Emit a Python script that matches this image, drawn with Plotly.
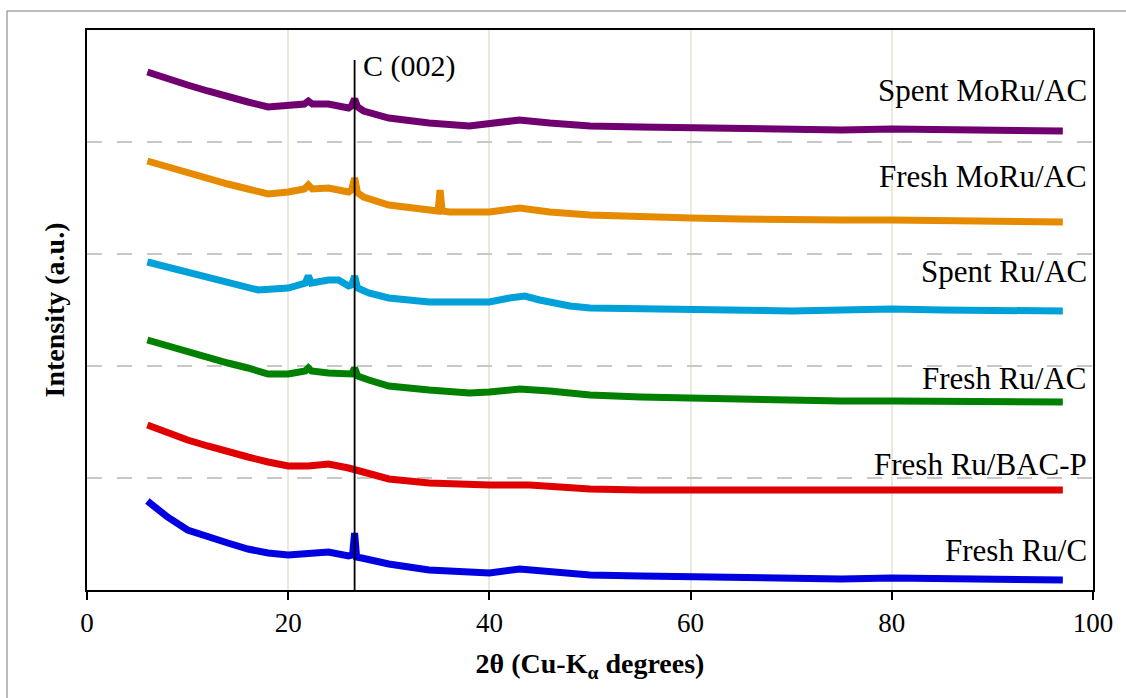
import plotly.graph_objects as go

# ---- data (intensity in arbitrary units, stacked with offsets) ----
names = ["Spent MoRu/AC", "Fresh MoRu/AC", "Spent Ru/AC", "Fresh Ru/AC", "Fresh Ru/BAC-P", "Fresh Ru/C"]
colors = ["#700070", "#e68a00", "#00a0d8", "#008000", "#e00000", "#0000e0"]

x_spent_moru = [6, 8, 10, 12, 14, 16, 18, 20, 21.6, 22, 22.4, 24, 26, 26.3, 26.6, 26.9, 27.5, 30, 34, 38, 40, 43, 46, 50, 55, 60, 65, 70, 75, 80, 85, 90, 97]
y_spent_moru = [518, 511, 505, 499, 493, 488, 483, 484, 486, 489, 486, 486, 482, 484, 491, 483, 479, 472, 467, 464, 466, 470, 467, 464, 463, 462, 461, 460, 460, 461, 460, 459, 459]

x_fresh_moru = [6, 8, 10, 12, 14, 16, 18, 20, 21.6, 22, 22.4, 24, 26, 26.3, 26.6, 26.9, 27.5, 30, 34, 34.9, 35.1, 35.3, 36, 40, 43, 46, 50, 55, 60, 65, 70, 75, 80, 85, 90, 97]
y_fresh_moru = [429, 423, 417, 411, 406, 401, 396, 398, 401, 405, 401, 402, 398, 400, 412, 397, 393, 385, 380, 379, 400, 379, 378, 378, 382, 378, 375, 373, 372, 371, 370, 370, 370, 369, 369, 368]

x_spent_ru = [6, 8, 10, 12, 14, 16, 17, 20, 21.7, 22, 22.3, 24, 25, 26, 26.3, 26.6, 26.9, 28, 30, 34, 38, 40, 42, 43.5, 45, 48, 50, 55, 60, 65, 70, 75, 80, 85, 90, 97]
y_spent_ru = [328, 323, 318, 313, 307, 302, 300, 302, 307, 314, 307, 310, 310, 304, 305, 314, 302, 297, 292, 288, 287, 288, 292, 294, 290, 284, 282, 281, 280, 279, 279, 280, 281, 280, 279, 279]

x_fresh_ru_ac = [6, 8, 10, 12, 14, 16, 18, 20, 21.7, 22, 22.3, 24, 26, 26.3, 26.6, 26.9, 28, 30, 34, 38, 40, 43, 46, 50, 55, 60, 65, 70, 75, 80, 85, 90, 97]
y_fresh_ru_ac = [250, 244, 238, 233, 227, 222, 216, 216, 219, 222, 219, 217, 215, 216, 222, 214, 210, 204, 200, 197, 198, 201, 199, 195, 193, 192, 190, 189, 189, 189, 189, 189, 188]

x_fresh_ru_bac = [6, 8, 10, 12, 14, 16, 18, 20, 22, 24, 26, 28, 30, 34, 38, 40, 44, 50, 55, 60, 65, 70, 75, 80, 85, 90, 97]
y_fresh_ru_bac = [165, 157, 150, 144, 138, 133, 128, 124, 124, 126, 122, 116, 111, 107, 105, 105, 105, 101, 100, 100, 99, 99, 100, 100, 100, 100, 100]

x_fresh_ru_c = [6, 7, 8, 10, 12, 14, 16, 18, 20, 22, 24, 26, 26.4, 26.6, 26.8, 27.3, 30, 34, 38, 40, 43, 46, 50, 55, 60, 65, 70, 75, 80, 85, 90, 97]
y_fresh_ru_c = [89, 80, 73, 60, 53, 47, 41, 37, 35, 37, 38, 34, 35, 57, 33, 32, 26, 20, 17, 17, 21, 18, 15, 14, 13, 12, 11, 11, 12, 11, 10, 10]

xs = [x_spent_moru, x_fresh_moru, x_spent_ru, x_fresh_ru_ac, x_fresh_ru_bac, x_fresh_ru_c]
ys = [y_spent_moru, y_fresh_moru, y_spent_ru, y_fresh_ru_ac, y_fresh_ru_bac, y_fresh_ru_c]

label_y = [500, 414, 319, 212, 126, 40]
label_x = 99.6

c002_x = 26.6
c002_top = 530

x_ticks = [0, 20, 40, 60, 80, 100]

FONT = "Liberation Serif"

fig = go.Figure()
for name, col, x, y in zip(names, colors, xs, ys):
    fig.add_trace(go.Scatter(x=x, y=y, mode="lines", name=name,
                             line=dict(color=col, width=7),
                             showlegend=False))

# C(002) reference line
fig.add_trace(go.Scatter(x=[c002_x, c002_x], y=[0, c002_top], mode="lines",
                         line=dict(color="black", width=1.8), showlegend=False))

for name, ly in zip(names, label_y):
    fig.add_annotation(x=label_x, y=ly, text=name, showarrow=False, xanchor="right",
                       yanchor="middle", font=dict(family=FONT, size=31, color="black"))

fig.add_annotation(x=c002_x + 0.6, y=524, text="C (002)", showarrow=False, xanchor="left",
                   yanchor="middle", font=dict(family=FONT, size=30, color="black"))

# outer frame
fig.add_shape(type="rect", xref="paper", yref="paper", x0=-0.0795, x1=1.08, y0=-0.3, y1=1.034,
              line=dict(color="#a6a6a6", width=1.5), layer="below")

fig.update_layout(
    width=1126, height=698,
    margin=dict(l=87, r=33, t=30, b=108),
    paper_bgcolor="white", plot_bgcolor="white",
    font=dict(family=FONT, color="black"),
    xaxis=dict(range=[0, 100], tickvals=x_ticks, ticks="outside", ticklen=8, tickwidth=1.5,
               tickcolor="black", showline=True, linecolor="black", linewidth=2, mirror=True,
               showgrid=True, gridcolor="#ebe8dc", gridwidth=1.5, zeroline=False,
               tickfont=dict(family=FONT, size=27),
               title=dict(text="<b>2θ (Cu-K<sub>α</sub> degrees)</b>", font=dict(family=FONT, size=28), standoff=16)),
    yaxis=dict(range=[0, 560], dtick=112, showticklabels=False, ticks="",
               showline=True, linecolor="black", linewidth=2, mirror=True,
               showgrid=True, gridcolor="#c8c8c8", gridwidth=2, griddash="longdash", zeroline=False,
               title=dict(text="<b>Intensity (a.u.)</b>", font=dict(family=FONT, size=28), standoff=12)),
)

fig.write_html("out.html")
